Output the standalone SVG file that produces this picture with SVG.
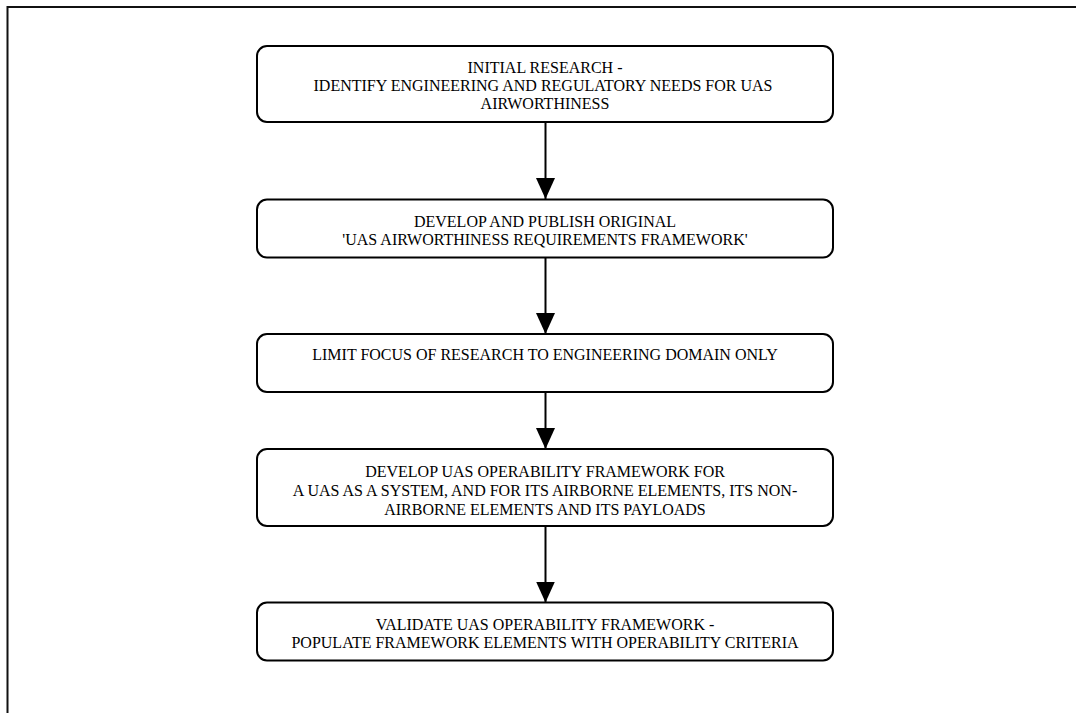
<svg xmlns="http://www.w3.org/2000/svg" width="1076" height="713" viewBox="0 0 1076 713">
<defs>
<style>
.box{fill:#fff;stroke:#000;stroke-width:2}
.t{font-family:"Liberation Serif","Times New Roman",serif;font-size:16px;fill:#000;text-anchor:middle}
.c{stroke:#000;stroke-width:2;fill:none}
.frame{stroke:#111;stroke-width:2;fill:none}
</style>
<marker id="ah" markerUnits="userSpaceOnUse" markerWidth="22" markerHeight="19" refX="21" refY="9.5" orient="auto">
<path d="M0,0 L21,9.5 L0,19 Z" fill="#000"/>
</marker>
</defs>
<rect width="1076" height="713" fill="#fff"/>
<path class="frame" d="M7.5,713 L7.5,7 L1076,7"/>
<g id="n1"><rect class="box" x="257" y="46" width="576" height="76" rx="10"/>
<text class="t" x="545" y="73">INITIAL RESEARCH -</text>
<text class="t" x="543" y="91">IDENTIFY ENGINEERING AND REGULATORY NEEDS FOR UAS</text>
<text class="t" x="545" y="109">AIRWORTHINESS</text></g>
<g id="n2"><rect class="box" x="257" y="199.5" width="576" height="58" rx="10"/>
<text class="t" x="545" y="227">DEVELOP AND PUBLISH ORIGINAL</text>
<text class="t" x="545" y="245">'UAS AIRWORTHINESS REQUIREMENTS FRAMEWORK'</text></g>
<g id="n3"><rect class="box" x="257" y="334" width="576" height="58" rx="10"/>
<text class="t" x="545" y="360">LIMIT FOCUS OF RESEARCH TO ENGINEERING DOMAIN ONLY</text></g>
<g id="n4"><rect class="box" x="257" y="449" width="576" height="77" rx="10"/>
<text class="t" x="545" y="477">DEVELOP UAS OPERABILITY FRAMEWORK FOR</text>
<text class="t" x="545" y="496">A UAS AS A SYSTEM, AND FOR ITS AIRBORNE ELEMENTS, ITS NON-</text>
<text class="t" x="545" y="515">AIRBORNE ELEMENTS AND ITS PAYLOADS</text></g>
<g id="n5"><rect class="box" x="257" y="602.5" width="576" height="58" rx="10"/>
<text class="t" x="545" y="630">VALIDATE UAS OPERABILITY FRAMEWORK -</text>
<text class="t" x="545" y="648">POPULATE FRAMEWORK ELEMENTS WITH OPERABILITY CRITERIA</text></g>
<g id="connectors">
<line class="c" x1="545.5" y1="122" x2="545.5" y2="199" marker-end="url(#ah)"/>
<line class="c" x1="545.5" y1="257.5" x2="545.5" y2="334" marker-end="url(#ah)"/>
<line class="c" x1="545.5" y1="392" x2="545.5" y2="449" marker-end="url(#ah)"/>
<line class="c" x1="545.5" y1="526" x2="545.5" y2="602.5" marker-end="url(#ah)"/>
</g>
</svg>
